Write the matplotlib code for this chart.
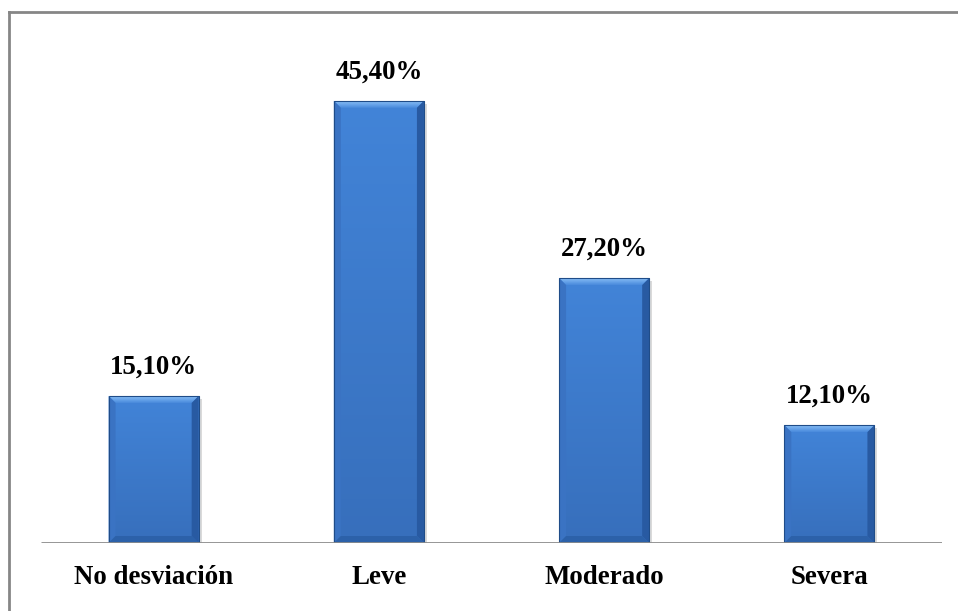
import numpy as np
import matplotlib
matplotlib.use("Agg")
import matplotlib.pyplot as plt
from matplotlib.patches import Polygon, Rectangle
from matplotlib.colors import LinearSegmentedColormap

categories = ["No desviación", "Leve", "Moderado", "Severa"]
values = [15.1, 45.4, 27.2, 12.1]
value_labels = ["15,10%", "45,40%", "27,20%", "12,10%"]

W, H, DPI = 958, 611, 100
fig = plt.figure(figsize=(W / DPI, H / DPI), dpi=DPI)
fig.patch.set_facecolor("white")

# outer chart frame (only top and left edges visible)
fig.add_artist(plt.Line2D([8.5 / W, 8.5 / W], [0, 1 - 11.5 / H], transform=fig.transFigure,
                          color="#868686", lw=2))
fig.add_artist(plt.Line2D([8.5 / W, 1.0], [1 - 11.5 / H, 1 - 11.5 / H], transform=fig.transFigure,
                          color="#868686", lw=2))

ax_left, ax_right = 41, 942
ax_bottom, ax_top = 543, 20
ax = fig.add_axes([ax_left / W, 1 - ax_bottom / H, (ax_right - ax_left) / W, (ax_bottom - ax_top) / H])
px_per_unit = 9.74
ymax = (ax_bottom - ax_top) / px_per_unit
ax.set_xlim(-0.5, len(categories) - 0.5)
ax.set_ylim(0, ymax)
ax.axis("off")

# baseline
ax.plot([-0.5, len(categories) - 0.5], [0, 0], color="#8C8C8C", lw=2, zorder=5, solid_capstyle="butt")

bar_w = 0.4
x = np.arange(len(categories))
bars = ax.bar(x, values, width=bar_w, color="#3F7FD3", zorder=2)

px_x = (ax_right - ax_left) / len(categories)
bev = 7
dx = bev / px_x
dy = bev / px_per_unit

grad_cmap = LinearSegmentedColormap.from_list("g", ["#376FBC", "#4284D8"])
top_cmap = LinearSegmentedColormap.from_list("t", ["#4A8BDC", "#86BDF6"])
for b in bars:
    x0, x1 = b.get_x(), b.get_x() + b.get_width()
    y0, y1 = 0, b.get_height()
    # soft shadow on the right
    ax.add_patch(Rectangle((x1, y0), 3 / px_x, y1 - 0.3, color="#DADADA", zorder=1, lw=0))
    # vertical gradient body
    grad = np.linspace(0, 1, 100).reshape(-1, 1)
    im = ax.imshow(grad, extent=(x0, x1, y0, y1), origin="lower", cmap=grad_cmap,
                   aspect="auto", zorder=3)
    im.set_clip_path(b)
    # bevel edges
    top = Polygon([(x0, y1), (x1, y1), (x1 - dx, y1 - dy), (x0 + dx, y1 - dy)],
                  closed=True, lw=0, zorder=4, facecolor="none")
    ax.add_patch(top)
    tim = ax.imshow(np.linspace(0, 1, 20).reshape(-1, 1), extent=(x0, x1, y1 - dy, y1),
                    origin="lower", cmap=top_cmap, aspect="auto", zorder=4)
    tim.set_clip_path(top)
    left = Polygon([(x0, y0), (x0, y1), (x0 + dx, y1 - dy), (x0 + dx, y0 + dy)],
                   closed=True, color="#3A73C3", lw=0, zorder=4)
    right = Polygon([(x1, y0), (x1, y1), (x1 - dx, y1 - dy), (x1 - dx, y0 + dy)],
                    closed=True, color="#285AA2", lw=0, zorder=4)
    bottom = Polygon([(x0, y0), (x1, y0), (x1 - dx, y0 + dy), (x0 + dx, y0 + dy)],
                     closed=True, color="#2C61A9", lw=0, zorder=4)
    for p in (left, right, bottom):
        ax.add_patch(p)
    ax.add_patch(Rectangle((x0, y0), x1 - x0, y1, fill=False, ec="#1F4C88", lw=0.8, zorder=4))

font = dict(family="Liberation Serif", weight="bold", size=19.4)
for xi, v, lab in zip(x, values, value_labels):
    ax.text(xi, v + 16 / px_per_unit, lab, ha="center", va="bottom", color="black", **font)

for xi, c in zip(x, categories):
    ax.text(xi, -35 / px_per_unit, c, ha="center", va="center", color="black", clip_on=False, **font)

fig.savefig("out.png", dpi=DPI)
